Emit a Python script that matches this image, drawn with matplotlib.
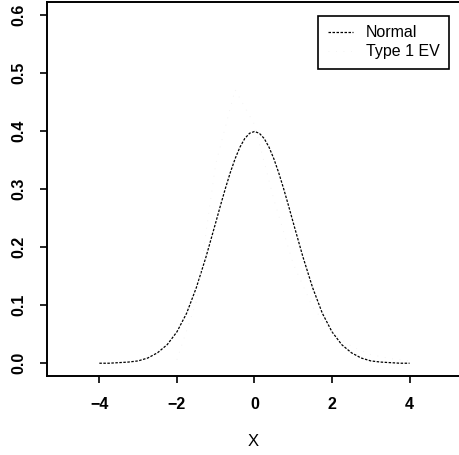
import numpy as np
import matplotlib
matplotlib.use('Agg')
import matplotlib.pyplot as plt

plt.rcParams['font.family'] = ['Liberation Sans', 'DejaVu Sans']

# values
x_vals = [-4.0, -3.75, -3.5, -3.25, -3.0, -2.75, -2.5, -2.25, -2.0, -1.75,
          -1.5, -1.25, -1.0, -0.875, -0.75, -0.625, -0.5, -0.375, -0.25,
          -0.125, 0.0, 0.125, 0.25, 0.375, 0.5, 0.625, 0.75, 0.875, 1.0,
          1.25, 1.5, 1.75, 2.0, 2.25, 2.5, 2.75, 3.0, 3.25, 3.5, 3.75, 4.0]
normal_vals = [0.000, 0.000, 0.001, 0.002, 0.004, 0.009, 0.018, 0.032, 0.054,
               0.086, 0.130, 0.183, 0.242, 0.272, 0.301, 0.328, 0.352, 0.372,
               0.387, 0.396, 0.399, 0.396, 0.387, 0.372, 0.352, 0.328, 0.301,
               0.272, 0.242, 0.183, 0.130, 0.086, 0.054, 0.032, 0.018, 0.009,
               0.004, 0.002, 0.001, 0.000, 0.000]

# Type 1 EV curve is barely visible (very faint dots)
ev_x = [-2.0, -1.5, -1.0, -0.5, 0.0, 0.5, 1.0, 1.5, 2.0, 2.5, 3.0, 3.5, 4.0]
ev_vals = [0.006, 0.106, 0.343, 0.471, 0.411, 0.282, 0.171, 0.097, 0.053,
           0.029, 0.015, 0.008, 0.004]

x_ticks = [-4, -2, 0, 2, 4]
y_ticks = [0.0, 0.1, 0.2, 0.3, 0.4, 0.5, 0.6]

fig = plt.figure(figsize=(4.6, 4.55), dpi=100)
ax = fig.add_axes([47 / 460, 79 / 455, 413 / 460, 374 / 455])

ax.plot(x_vals, normal_vals, color='black', lw=0.9,
        linestyle=(0, (2.0, 1.2)), label='Normal')
ax.plot(ev_x, ev_vals, color='0.94', lw=0.6,
        linestyle=(0, (1, 8)), label='Type 1 EV')

ax.set_xlim(-5.35, 5.3)
ax.set_ylim(-0.022, 0.622)
ax.set_xticks(x_ticks)
ax.set_xticklabels(['\u22124', '\u22122', '0', '2', '4'])
ax.set_yticks(y_ticks)
ax.set_yticklabels(['0.0', '0.1', '0.2', '0.3', '0.4', '0.5', '0.6'],
                   rotation=90, va='center')
ax.tick_params(direction='out', length=5, width=1.2, labelsize=11.5,
               pad=10)
for lbl in ax.get_xticklabels() + ax.get_yticklabels():
    lbl.set_fontweight('bold')
ax.set_xlabel('X', fontsize=12, labelpad=16)
for sp in ax.spines.values():
    sp.set_linewidth(1.4)

leg = ax.legend(loc='upper left', bbox_to_anchor=(0.656, 0.963),
                borderaxespad=0, fancybox=False, edgecolor='black',
                framealpha=1, fontsize=11.5, handlelength=1.6,
                handletextpad=0.8, labelspacing=0.25, borderpad=0.6)
leg.get_frame().set_linewidth(1.2)

fig.savefig('out.png', dpi=100)
